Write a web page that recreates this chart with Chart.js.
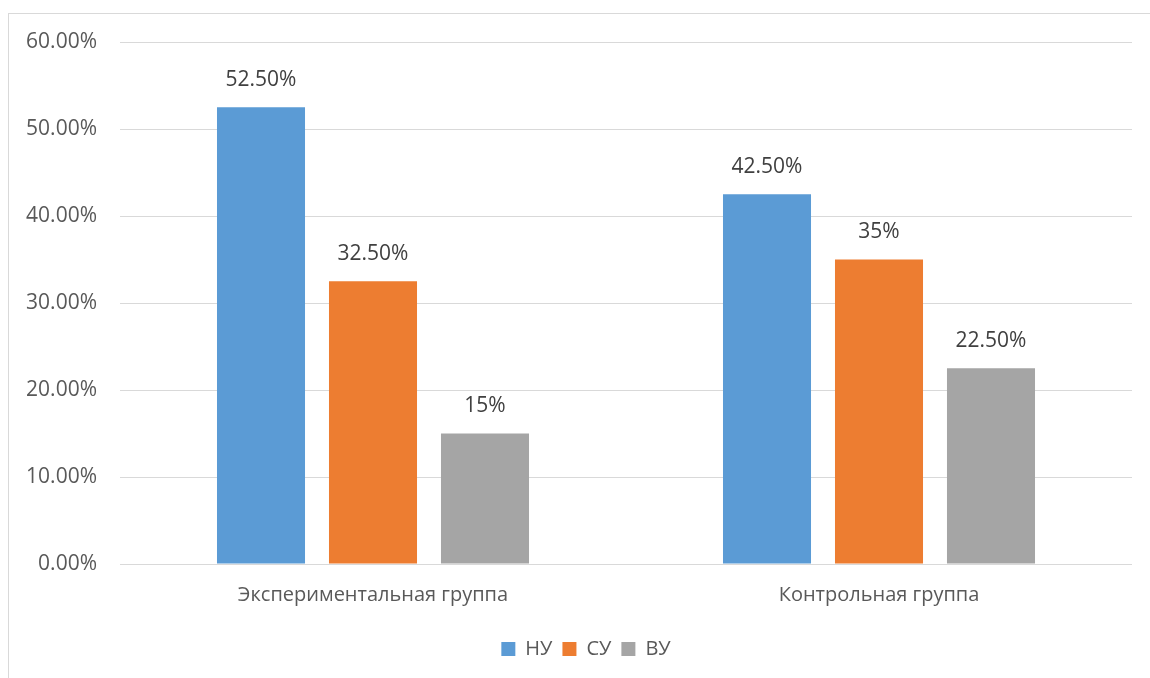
<!DOCTYPE html>
<html>
<head>
<meta charset="utf-8">
<script src="https://cdn.jsdelivr.net/npm/chart.js@4/dist/chart.umd.min.js"></script>
<style>
html,body{margin:0;padding:0;background:#fff;}
#wrap{position:relative;width:1150px;height:678px;}
</style>
</head>
<body>
<div id="wrap"><canvas id="c" width="1150" height="678"></canvas></div>
<script>
const categories = ["Экспериментальная группа", "Контрольная группа"];
const seriesNames = ["НУ", "СУ", "ВУ"];
const nuValues = [52.5, 42.5];
const suValues = [32.5, 35];
const vuValues = [15, 22.5];
const nuLabels = ["52.50%", "42.50%"];
const suLabels = ["32.50%", "35%"];
const vuLabels = ["15%", "22.50%"];
const colors = ["#5B9BD5", "#ED7D31", "#A5A5A5"];

const FONT = "'Open Sans', sans-serif";

const frame = {
  id: 'frame',
  beforeDraw(chart) {
    const ctx = chart.ctx;
    ctx.save();
    ctx.fillStyle = '#fff';
    ctx.fillRect(0, 0, chart.width, chart.height);
    ctx.strokeStyle = '#d9d9d9';
    ctx.lineWidth = 1;
    ctx.strokeRect(8.5, 13.5, 1200, 800);
    ctx.restore();
  }
};

const legendShift = {
  id: 'legendShift',
  afterLayout(chart) {
    if (chart.legend) {
      chart.legend.left += 20;
      chart.legend.right += 20;
    }
  }
};

const valueLabels = {
  id: 'valueLabels',
  afterDatasetsDraw(chart) {
    const ctx = chart.ctx;
    ctx.save();
    ctx.font = "21px " + FONT;
    ctx.fillStyle = '#404040';
    ctx.textAlign = 'center';
    ctx.textBaseline = 'middle';
    chart.data.datasets.forEach((ds, i) => {
      const meta = chart.getDatasetMeta(i);
      meta.data.forEach((bar, j) => {
        ctx.fillText(ds.valueLabels[j], bar.x, bar.y - 27);
      });
    });
    ctx.restore();
  }
};

new Chart(document.getElementById('c'), {
  type: 'bar',
  data: {
    labels: categories,
    datasets: [
      { label: seriesNames[0], data: nuValues, valueLabels: nuLabels, backgroundColor: colors[0] },
      { label: seriesNames[1], data: suValues, valueLabels: suLabels, backgroundColor: colors[1] },
      { label: seriesNames[2], data: vuValues, valueLabels: vuLabels, backgroundColor: colors[2] }
    ]
  },
  options: {
    responsive: false,
    animation: false,
    layout: { padding: { left: 0, right: 18, top: 42, bottom: 9 } },
    datasets: { bar: { categoryPercentage: 0.664, barPercentage: 0.786 } },
    plugins: {
      legend: {
        position: 'bottom',
        labels: {
          font: { family: FONT, size: 20 },
          color: '#595959',
          boxWidth: 14, boxHeight: 14,
          padding: 10
        }
      },
      tooltip: { enabled: false }
    },
    scales: {
      x: {
        grid: { display: false, drawTicks: false },
        border: { display: false },
        ticks: { font: { family: FONT, size: 20 }, color: '#595959', padding: 19 },
        afterFit(s) { s.height = 65; }
      },
      y: {
        min: 0, max: 60,
        grid: { color: '#d9d9d9', lineWidth: 1, drawTicks: false },
        border: { display: false },
        ticks: {
          stepSize: 10,
          font: { family: FONT, size: 21 },
          color: '#595959',
          padding: 23,
          callback: v => v.toFixed(2) + '%'
        },
        afterFit(s) { s.width = 120; }
      }
    }
  },
  plugins: [frame, legendShift, valueLabels]
});
</script>
</body>
</html>
